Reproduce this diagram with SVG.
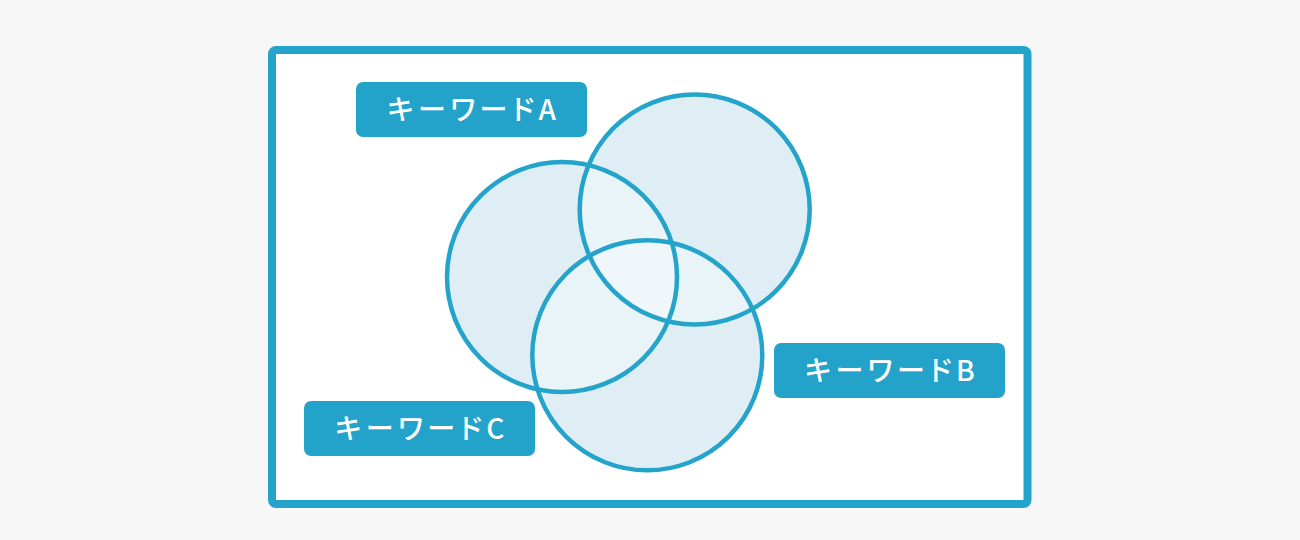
<svg xmlns="http://www.w3.org/2000/svg" width="1300" height="540" viewBox="0 0 1300 540">
  <style>
    .frame { fill: #ffffff; stroke: #25a4cb; stroke-width: 8; }
    .fill1 { fill: #dfeef4; }
    .fill2 { fill: #e9f4f8; }
    .fill3 { fill: #eff7fa; }
    .ring { fill: none; stroke: #25a4cb; stroke-width: 4.5; }
    .tag { fill: #24a3ca; }
    .tagtext { fill: #ffffff; font-family: "Noto Sans CJK JP", "Noto Sans", sans-serif; font-size: 28px; font-weight: 500; letter-spacing: 4.5px; text-anchor: middle; font-feature-settings: "palt"; }
  </style>
  <defs>
    <clipPath id="clipL"><circle cx="562" cy="277" r="115"/></clipPath>
    <clipPath id="clipR"><circle cx="694.7" cy="209.5" r="115"/></clipPath>
    <clipPath id="clipB"><circle cx="647.3" cy="355.3" r="115"/></clipPath>
  </defs>
  <rect x="0" y="0" width="1300" height="540" fill="#f7f7f7"/>
  <rect class="frame" x="272" y="50" width="755.5" height="454" rx="4"/>

  <g id="venn-fills">
    <circle class="fill1" cx="562" cy="277" r="115"/>
    <circle class="fill1" cx="694.7" cy="209.5" r="115"/>
    <circle class="fill1" cx="647.3" cy="355.3" r="115"/>
    <g clip-path="url(#clipL)"><circle class="fill2" cx="694.7" cy="209.5" r="115"/><circle class="fill2" cx="647.3" cy="355.3" r="115"/></g>
    <g clip-path="url(#clipR)"><circle class="fill2" cx="647.3" cy="355.3" r="115"/></g>
    <g clip-path="url(#clipL)"><g clip-path="url(#clipR)"><circle class="fill3" cx="647.3" cy="355.3" r="115"/></g></g>
  </g>

  <g id="circle-left"><circle class="ring" cx="562" cy="277" r="115"/></g>
  <g id="circle-right"><circle class="ring" cx="694.7" cy="209.5" r="115"/></g>
  <g id="circle-bottom"><circle class="ring" cx="647.3" cy="355.3" r="115"/></g>

  <g id="keyword-a">
    <rect class="tag" x="356" y="82" width="231" height="55" rx="7"/>
    <text class="tagtext" x="474" y="120">キーワードA</text>
  </g>
  <g id="keyword-b">
    <rect class="tag" x="774" y="343" width="231" height="55" rx="7"/>
    <text class="tagtext" x="892" y="381">キーワードB</text>
  </g>
  <g id="keyword-c">
    <rect class="tag" x="304" y="401" width="231" height="55" rx="7"/>
    <text class="tagtext" x="422" y="439">キーワードC</text>
  </g>
  <g id="connectors"></g>
</svg>
